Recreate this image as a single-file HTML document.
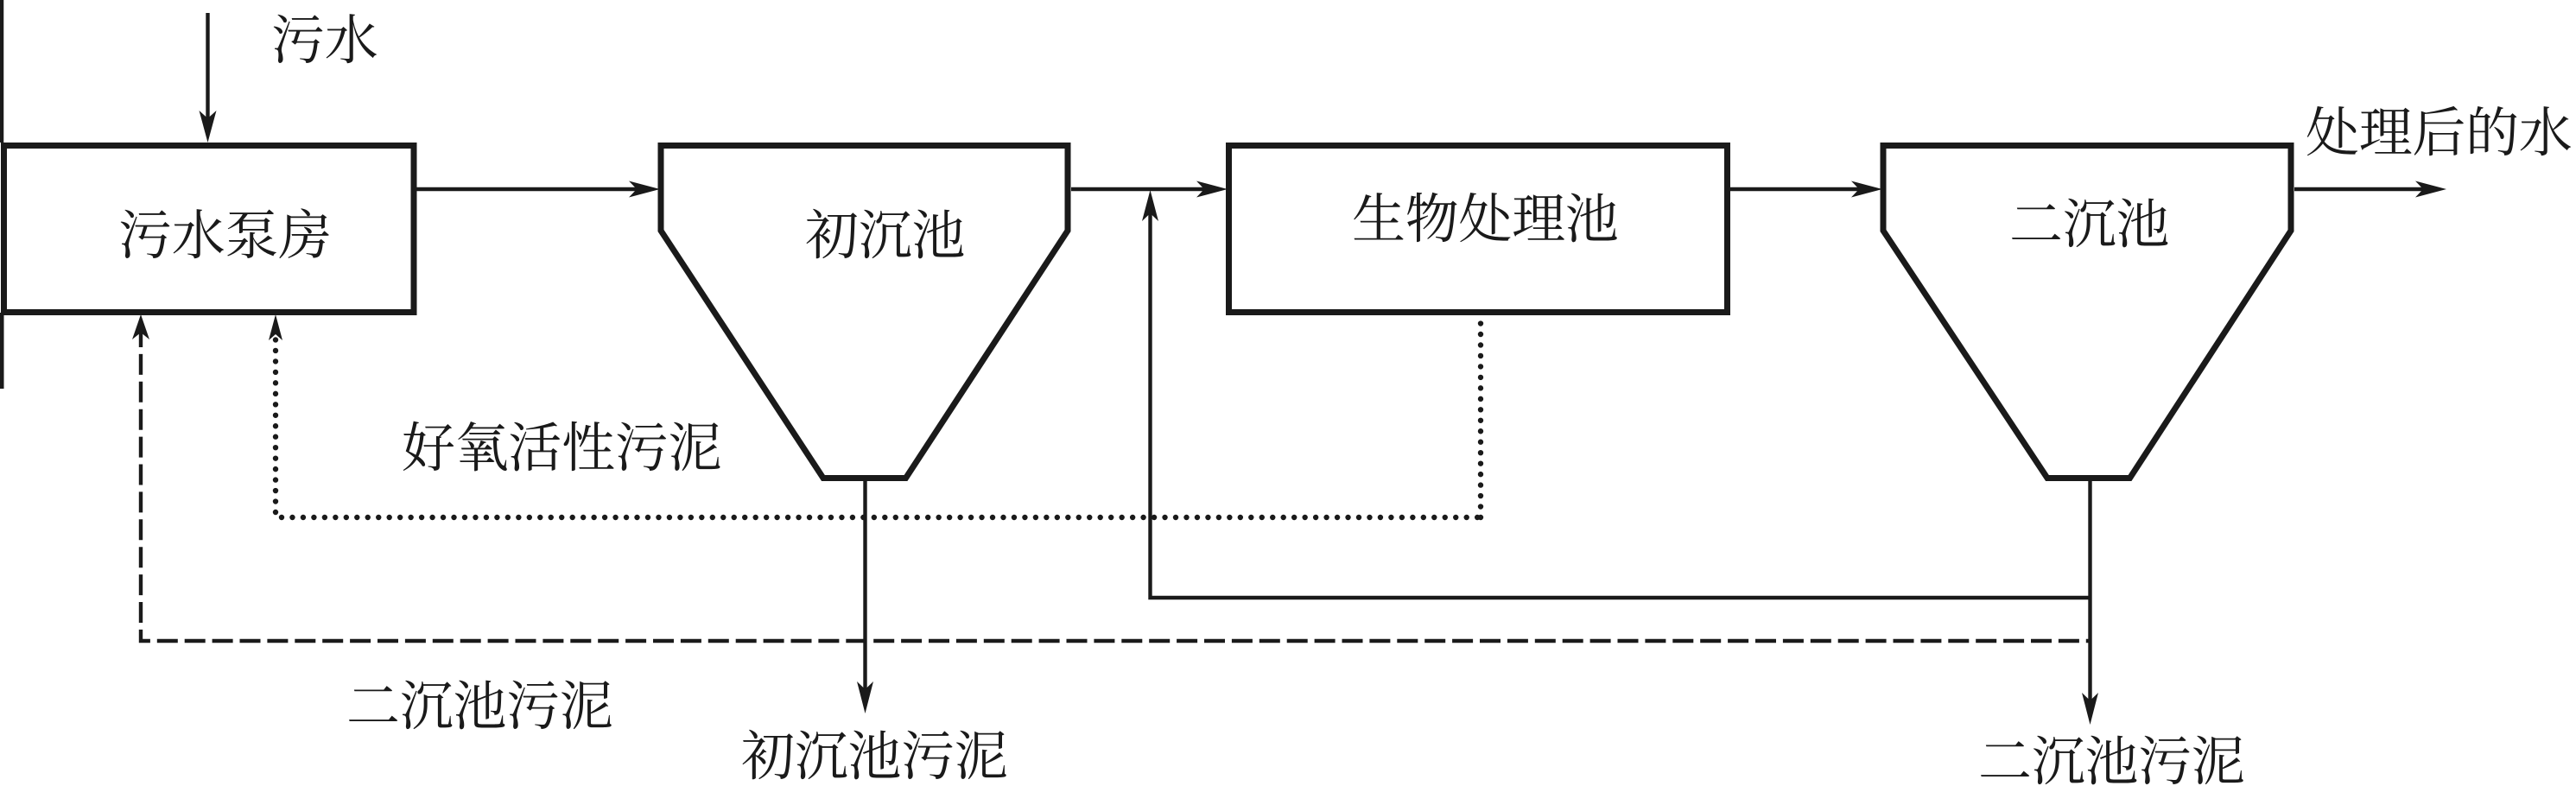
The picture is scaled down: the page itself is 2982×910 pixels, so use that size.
<!DOCTYPE html>
<html lang="zh">
<head>
<meta charset="utf-8">
<title>污水处理流程图</title>
<style>
html,body{margin:0;padding:0;background:#fff;}
svg{display:block;}
text{font-family:"Liberation Serif","Noto Serif CJK SC",serif;font-size:62px;letter-spacing:-0.3px;fill:#1a1a1a;}
</style>
</head>
<body>
<svg width="2982" height="910" viewBox="0 0 2982 910" xmlns="http://www.w3.org/2000/svg">
<rect width="2982" height="910" fill="#fff"/>
<g fill="none" stroke="#1a1a1a">
  <!-- left wall -->
  <path d="M2 0V165" stroke-width="4.5"/>
  <path d="M2 362V450" stroke-width="5"/>
  <!-- boxes -->
  <g stroke-width="7" stroke-linejoin="miter">
    <rect x="4.5" y="168.5" width="474.5" height="193"/>
    <path d="M765 168.5H1236V267L1048.5 553.5H953L765 267Z"/>
    <rect x="1422.5" y="168.5" width="577" height="193"/>
    <path d="M2180 168.5H2652V267L2465.5 553.5H2370L2180 267Z"/>
  </g>
  <!-- solid lines -->
  <g stroke-width="4.4">
    <path d="M240.5 15V140"/>
    <path d="M481 219H740"/>
    <path d="M1240 219H1400"/>
    <path d="M2003 219H2160"/>
    <path d="M2656 219H2810"/>
    <path d="M1001.5 557V800"/>
    <path d="M2419.5 557V815"/>
    <path d="M2419.5 692H1331.5V240"/>
  </g>
  <!-- dashed -->
  <path d="M163 378V742H2419" stroke-width="4.4" stroke-dasharray="24 7.9"/>
  <!-- dotted -->
  <g stroke-width="6.4" stroke-linecap="round" stroke-dasharray="0 12.47">
    <path d="M319 593V393"/>
    <path d="M326 599H1714"/>
    <path d="M1714 599V370"/>
  </g>
</g>
<g fill="#1a1a1a">
  <!-- arrowheads -->
  <polygon points="240.5,165 230.5,128 240.5,137 250.5,128"/>
  <polygon points="764,219 728,209.5 737,219 728,228.5"/>
  <polygon points="1421,219 1385,209.5 1394,219 1385,228.5"/>
  <polygon points="2179,219 2143,209.5 2152,219 2143,228.5"/>
  <polygon points="2832,219 2796,209.5 2805,219 2796,228.5"/>
  <polygon points="1001.5,826 992,789 1001.5,798 1011,789"/>
  <polygon points="2419.5,839 2410,802 2419.5,811 2429,802"/>
  <polygon points="1331.5,220 1322,256 1331.5,247 1341,256"/>
  <polygon points="163,364 153,393 163,385 173,393"/>
  <polygon points="319,364 311,394 319,387 327,394"/>
</g>
<text x="314" y="68">污水</text>
<text x="137" y="294">污水泵房</text>
<text x="465" y="540">好氧活性污泥</text>
<text x="401" y="839">二沉池污泥</text>
<text x="858" y="897">初沉池污泥</text>
<text x="932" y="294">初沉池</text>
<text x="1565" y="275">生物处理池</text>
<text x="2326" y="281">二沉池</text>
<text x="2669" y="175">处理后的水</text>
<text x="2290" y="903">二沉池污泥</text>
</svg>
</body>
</html>
